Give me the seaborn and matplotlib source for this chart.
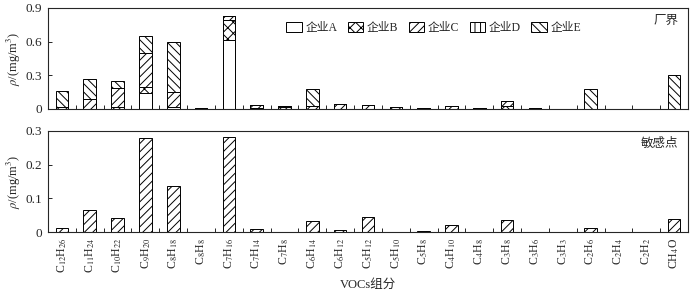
import numpy as np
import pandas as pd
import matplotlib
matplotlib.use("Agg")
import matplotlib.pyplot as plt
from matplotlib.patches import Patch
from matplotlib.ticker import FixedLocator
import seaborn as sns

categories = ["C12H26", "C11H24", "C10H22", "C9H20", "C8H18", "C8H8", "C7H16", "C7H14",
              "C7H8", "C6H14", "C6H12", "C5H12", "C5H10", "C5H8", "C4H10", "C4H8",
              "C3H8", "C3H6", "C3H3", "C2H6", "C2H4", "C2H2", "CH4O"]
tick_labels = [r"C$_{12}$H$_{26}$", r"C$_{11}$H$_{24}$", r"C$_{10}$H$_{22}$", r"C$_{9}$H$_{20}$",
               r"C$_{8}$H$_{18}$", r"C$_{8}$H$_{8}$", r"C$_{7}$H$_{16}$", r"C$_{7}$H$_{14}$",
               r"C$_{7}$H$_{8}$", r"C$_{6}$H$_{14}$", r"C$_{6}$H$_{12}$", r"C$_{5}$H$_{12}$",
               r"C$_{5}$H$_{10}$", r"C$_{5}$H$_{8}$", r"C$_{4}$H$_{10}$", r"C$_{4}$H$_{8}$",
               r"C$_{3}$H$_{8}$", r"C$_{3}$H$_{6}$", r"C$_{3}$H$_{3}$", r"C$_{2}$H$_{6}$",
               r"C$_{2}$H$_{4}$", r"C$_{2}$H$_{2}$", r"CH$_{4}$O"]

# Factory boundary (厂界), stacked by enterprise
ent_A = [0.000, 0.000, 0.000, 0.140, 0.020, 0.000, 0.615, 0.000, 0.000, 0.000, 0.000, 0.000,
         0.000, 0.000, 0.000, 0.000, 0.000, 0.000, 0.000, 0.000, 0.000, 0.000, 0.000]
ent_B = [0.000, 0.000, 0.020, 0.060, 0.000, 0.005, 0.175, 0.005, 0.020, 0.000, 0.000, 0.000,
         0.000, 0.000, 0.000, 0.000, 0.030, 0.000, 0.000, 0.000, 0.000, 0.000, 0.000]
ent_C = [0.020, 0.085, 0.165, 0.300, 0.135, 0.000, 0.040, 0.030, 0.005, 0.030, 0.045, 0.035,
         0.020, 0.010, 0.030, 0.005, 0.040, 0.005, 0.003, 0.000, 0.000, 0.000, 0.000]
ent_D = [0.000, 0.000, 0.000, 0.000, 0.000, 0.000, 0.000, 0.000, 0.000, 0.000, 0.000, 0.000,
         0.000, 0.000, 0.000, 0.000, 0.000, 0.000, 0.000, 0.000, 0.000, 0.000, 0.000]
ent_E = [0.143, 0.180, 0.060, 0.150, 0.445, 0.000, 0.000, 0.000, 0.000, 0.145, 0.000, 0.000,
         0.000, 0.000, 0.000, 0.000, 0.000, 0.000, 0.000, 0.180, 0.000, 0.000, 0.300]
# Sensitive point (敏感点)
sensitive = [0.012, 0.066, 0.042, 0.280, 0.137, 0.000, 0.282, 0.010, 0.001, 0.034, 0.006, 0.046,
             0.001, 0.003, 0.022, 0.001, 0.035, 0.001, 0.000, 0.013, 0.000, 0.001, 0.040]

series_names = ["企业A", "企业B", "企业C", "企业D", "企业E"]
hatches = ["", "xxx", "////", "|||", "\\\\\\\\"]

sns.set_style("ticks")
plt.rcParams["font.family"] = ["Liberation Serif", "Noto Sans CJK SC"]
plt.rcParams["mathtext.fontset"] = "stix"
plt.rcParams["hatch.linewidth"] = 0.7
plt.rcParams["axes.linewidth"] = 0.8

fig = plt.figure(figsize=(7.0, 2.93), dpi=100)
ax1 = fig.add_axes([0.0686, 0.628, 0.9143, 0.345])
ax2 = fig.add_axes([0.0686, 0.208, 0.9143, 0.345])

layers = [ent_A, ent_B, ent_C, ent_D, ent_E]
cum = np.cumsum(np.array(layers), axis=0)
bw = 0.45
# draw from tallest cumulative downward so lower segments cover upper ones
for i in range(len(layers) - 1, -1, -1):
    df = pd.DataFrame({"cat": categories, "val": cum[i]})
    sns.barplot(data=df, x="cat", y="val", order=categories, ax=ax1, color="white",
                edgecolor="black", linewidth=0.7, hatch=hatches[i], width=bw,
                saturation=1, errorbar=None)

df2 = pd.DataFrame({"cat": categories, "val": sensitive})
sns.barplot(data=df2, x="cat", y="val", order=categories, ax=ax2, color="white",
            edgecolor="black", linewidth=0.7, hatch="////", width=bw,
            saturation=1, errorbar=None)

for ax, ymax, yt in [(ax1, 0.9, [0, 0.3, 0.6, 0.9]), (ax2, 0.3, [0, 0.1, 0.2, 0.3])]:
    ax.set_xlim(-0.5, len(categories) - 0.5)
    ax.set_ylim(0, ymax)
    ax.set_yticks(yt)
    ax.set_yticklabels(["0" if v == 0 else f"{v:g}" for v in yt], fontsize=9.5)
    ax.set_ylabel(r"$\rho$/(mg/m$^3$)", fontsize=9, labelpad=2)
    ax.set_xlabel("")
    for s in ["top", "right", "left", "bottom"]:
        ax.spines[s].set_visible(True)
        ax.spines[s].set_linewidth(0.8)
    ax.xaxis.set_minor_locator(FixedLocator(np.arange(0.5, len(categories) - 1, 1.0)))
    ax.tick_params(axis="x", which="major", length=0)
    ax.tick_params(axis="x", which="minor", direction="in", length=3, width=0.7)
    ax.tick_params(axis="y", direction="in", length=3, width=0.7, pad=4)

ax1.set_xticks(range(len(categories)))
ax1.set_xticklabels([])
ax2.set_xticks(range(len(categories)))
ax2.set_xticklabels(tick_labels, rotation=90, fontsize=8.5)
ax2.tick_params(axis="x", which="major", pad=4)
ax2.set_xlabel("VOCs组分", fontsize=9, labelpad=4)

ax1.text(0.985, 0.93, "厂界", transform=ax1.transAxes, ha="right", va="top", fontsize=9)
ax2.text(0.985, 0.93, "敏感点", transform=ax2.transAxes, ha="right", va="top", fontsize=9)

handles = [Patch(facecolor="white", edgecolor="black", hatch=h, linewidth=0.7) for h in hatches]
ax1.legend(handles, series_names, loc="center left", bbox_to_anchor=(0.365, 0.8), ncol=5,
           frameon=False, fontsize=8.5, handlelength=1.3, handleheight=0.9,
           columnspacing=0.9, handletextpad=0.3, borderaxespad=0)

fig.savefig("out.png", dpi=100)
